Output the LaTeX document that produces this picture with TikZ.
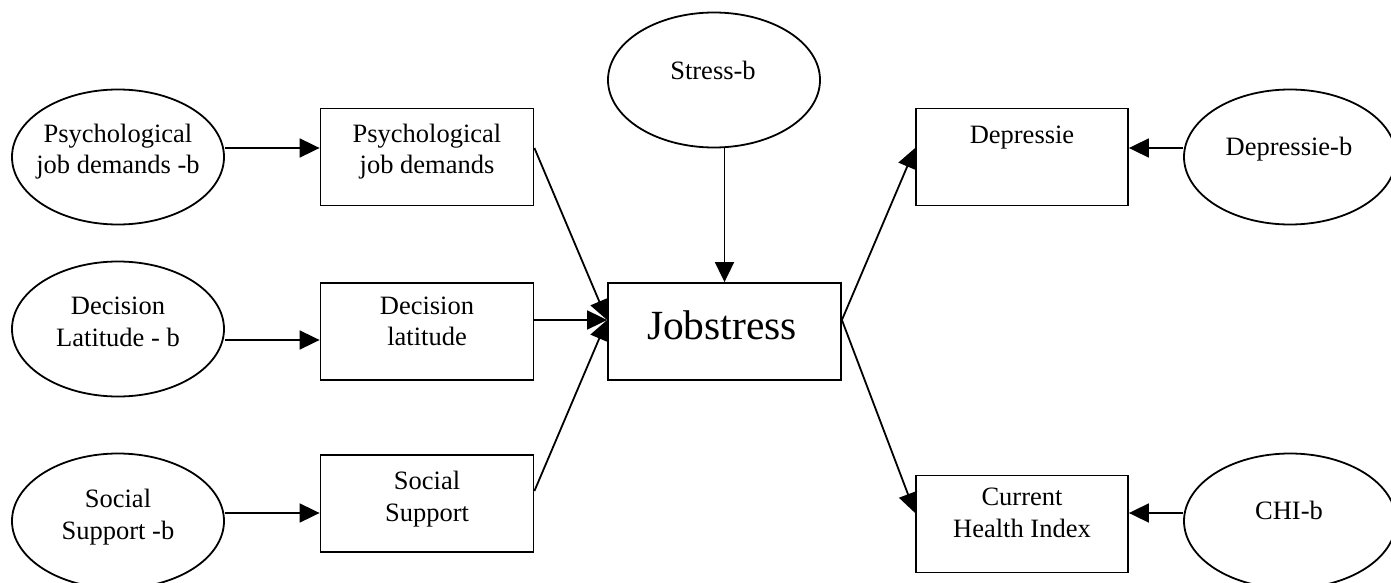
\documentclass[tikz,border=0pt]{standalone}
\usepackage{fontspec}
\setmainfont{Liberation Serif}
\usetikzlibrary{arrows.meta,shapes.geometric,positioning}

\begin{document}
\begin{tikzpicture}[x=1pt, y=-1pt, >={Triangle[length=20pt,width=19pt]},
  latent/.style={draw, ellipse, line width=1.8pt, minimum width=212pt, minimum height=135pt},
  observed/.style={draw, rectangle, line width=1.8pt, minimum width=213pt, minimum height=97pt},
  lbl/.style={inner sep=0pt, align=center, font=\fontsize{26.5}{31.5}\selectfont},
  arr/.style={->, line width=1.8pt}]
  \useasboundingbox (0,0) rectangle (1391,583);
  % latent variables
  \node[latent] (pjdb)    at (118,157)  {};
  \node[latent] (dlb)     at (118,329)  {};
  \node[latent] (ssb)     at (118,521)  {};
  \node[latent] (stressb) at (714,80)   {};
  \node[latent] (depb)    at (1290,157) {};
  \node[latent] (chib)    at (1290,521) {};
  % observed variables
  \node[observed] (pjd) at (427,157)   {};
  \node[observed] (dl)  at (427,331.5) {};
  \node[observed] (ss)  at (427,503.5) {};
  \node[observed, minimum width=233pt] (job) at (724.5,331.5) {};
  \node[observed, minimum width=212pt] (dep) at (1022,157)   {};
  \node[observed, minimum width=212pt] (chi) at (1022,524)   {};
  % texts
  \node[lbl] (pjdb-t)    at (118,151.5) {Psychological\\job demands -b};
  \node[lbl] (dlb-t)     at (118,322)   {Decision\\Latitude - b};
  \node[lbl] (ssb-t)     at (118,517)   {Social\\Support -b};
  \node[lbl] (stressb-t) at (713,70)    {Stress-b};
  \node[lbl] (depb-t)    at (1289,149)  {Depressie-b};
  \node[lbl] (chib-t)    at (1289,510)  {CHI-b};
  \node[lbl] (pjd-t)     at (427,151.5) {Psychological\\job demands};
  \node[lbl] (dl-t)      at (427,321.5) {Decision\\latitude};
  \node[lbl] (ss-t)      at (427,499)   {Social\\Support};
  \node[lbl] (dep-t)     at (1022,138)  {Depressie};
  \node[lbl] (chi-t)     at (1022,513)  {Current\\Health Index};
  \node[lbl, font=\fontsize{41.5}{48}\selectfont] (job-t) at (722,325) {Jobstress};
  % connection points
  \coordinate (pjd-in)  at ([yshift=9pt]pjd.west);
  \coordinate (dl-in)   at ([yshift=-8.5pt]dl.west);
  \coordinate (ss-in)   at ([yshift=-9.5pt]ss.west);
  \coordinate (job-in)  at ([yshift=11.5pt]job.west);
  \coordinate (job-out) at ([yshift=11.5pt]job.east);
  \coordinate (dep-in)  at ([yshift=9pt]dep.east);
  \coordinate (chi-in)  at ([yshift=11pt]chi.east);
  % arrows
  \draw[arr] (pjdb.east |- pjd-in) -- (pjd-in);
  \draw[arr] (dlb.east |- dl-in) -- (dl-in);
  \draw[arr] (ssb.east |- ss-in) -- (ss-in);
  \draw[arr] ([yshift=9pt]pjd.east) -- (job-in);
  \draw[arr] (dl.east |- job-in) -- (job-in);
  \draw[arr] ([yshift=12.5pt]ss.east) -- (job-in);
  \draw[arr] (stressb.south -| job.north) -- (job.north);
  \draw[arr] (job-out) -- ([yshift=9pt]dep.west);
  \draw[arr] (job-out) -- ([yshift=11pt]chi.west);
  \draw[arr] (depb.west |- dep-in) -- (dep-in);
  \draw[arr] (chib.west |- chi-in) -- (chi-in);
\end{tikzpicture}
\end{document}
